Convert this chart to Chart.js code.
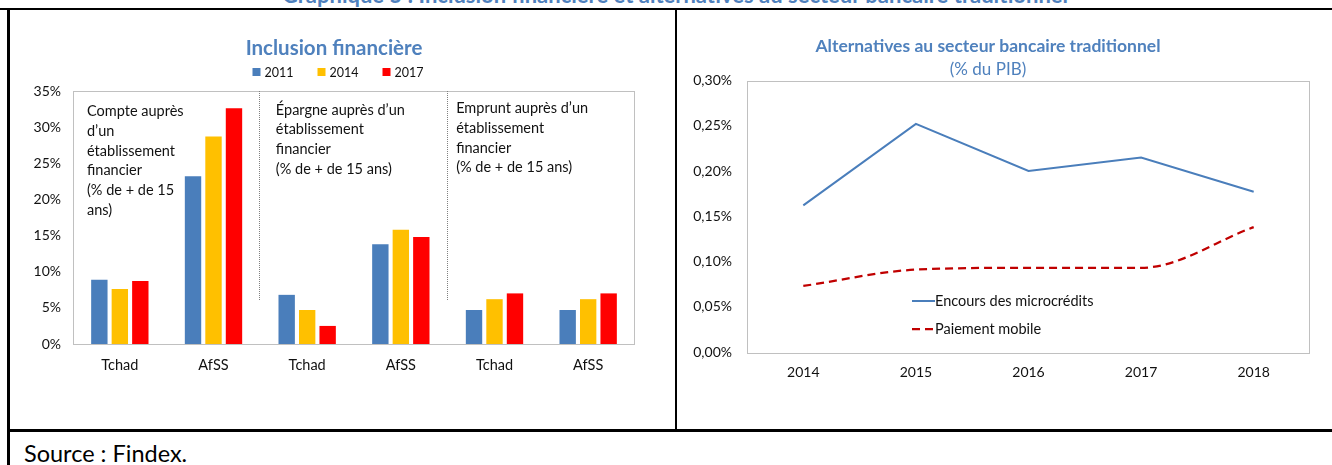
<!DOCTYPE html>
<html><head><meta charset="utf-8">
<script src="https://cdn.jsdelivr.net/npm/chart.js@4.4.0/dist/chart.umd.min.js"></script>
<style>
html,body{margin:0;padding:0;background:#fff;}
body{width:1332px;height:465px;overflow:hidden;position:relative;font-family:Lato,"Open Sans",sans-serif;}
.abs{position:absolute;}
.ln{position:absolute;background:#000;}
</style></head><body>
<div class="abs" style="left:0;width:1350px;top:-16px;text-align:center;font-weight:bold;font-size:22px;line-height:22px;color:#4F81BD;white-space:nowrap;">Graphique 5 : Inclusion financière et alternatives au secteur bancaire traditionnel</div>
<div class="ln" style="left:0;top:8px;width:1332px;height:2px;"></div>
<div class="ln" style="left:7px;top:8px;width:3px;height:457px;"></div>
<div class="ln" style="left:675px;top:8px;width:2px;height:423px;"></div>
<div class="ln" style="left:7px;top:429px;width:1325px;height:3px;"></div>
<div class="abs" style="left:24px;top:442px;font-size:23.5px;line-height:23px;color:#000;white-space:nowrap;">Source : Findex.</div>
<canvas id="c1" class="abs" width="648" height="419" style="left:10px;top:10px;width:648px;height:419px;"></canvas>
<canvas id="c2" class="abs" width="655" height="419" style="left:677px;top:10px;width:655px;height:419px;"></canvas>
<script>
// ---- Data: Inclusion financière ----
const categories = ['Tchad','AfSS','Tchad','AfSS','Tchad','AfSS'];
const seriesLabels = ['2011','2014','2017'];
const v2011 = [8.9, 23.2, 6.8, 13.8, 4.7, 4.7];
const v2014 = [7.6, 28.7, 4.7, 15.8, 6.2, 6.2];
const v2017 = [8.7, 32.6, 2.5, 14.8, 7.0, 7.0];
const groupNotes = [
  ['Compte auprès','d’un','établissement','financier','(% de + de 15','ans)'],
  ['Épargne auprès d’un','établissement','financier','(% de + de 15 ans)'],
  ['Emprunt auprès d’un','établissement','financier','(% de + de 15 ans)']
];
// ---- Data: Alternatives au secteur bancaire traditionnel ----
const years = ['2014','2015','2016','2017','2018'];
const microcredits = [0.162, 0.252, 0.200, 0.215, 0.177];
const paiementMobile = [0.073, 0.091, 0.093, 0.093, 0.138];
const lineLabels = ['Encours des microcrédits','Paiement mobile'];

const FONT = 'Lato, "Open Sans", sans-serif';
const BLUE_T = '#4F81BD';
const TXT = '#111';

const boxPlugin = {id:'box', beforeDatasetsDraw(chart){
  const {ctx, chartArea:a} = chart;
  ctx.save(); ctx.strokeStyle='#C0C0C0'; ctx.lineWidth=1;
  ctx.strokeRect(Math.round(a.left)+0.5, Math.round(a.top)+0.5, Math.round(a.right-a.left)-1, Math.round(a.bottom-a.top));
  ctx.restore();
}};

const sepPlugin = {id:'sep', beforeDatasetsDraw(chart){
  const {ctx, chartArea:a, scales:{x,y}} = chart;
  ctx.save(); ctx.strokeStyle='#808080'; ctx.lineWidth=1; ctx.setLineDash([1,1]);
  [1,3].forEach(i=>{
    const px = Math.round((x.getPixelForValue(i)+x.getPixelForValue(i+1))/2)-0.5;
    ctx.beginPath(); ctx.moveTo(px, a.top); ctx.lineTo(px, y.getPixelForValue(6)); ctx.stroke();
  });
  ctx.restore();
}};

const notesPlugin = {id:'notes', afterDatasetsDraw(chart){
  const {ctx, chartArea:a, scales:{x}} = chart;
  const sep1 = (x.getPixelForValue(1)+x.getPixelForValue(2))/2;
  const sep2 = (x.getPixelForValue(3)+x.getPixelForValue(4))/2;
  const xs = [a.left+14, sep1+15.5, sep2+8.5];
  const tops = [20.5, 19, 17.7];
  ctx.save(); ctx.fillStyle=TXT; ctx.font='14.5px '+FONT; ctx.textBaseline='middle'; ctx.textAlign='left';
  groupNotes.forEach((lines,g)=>{
    lines.forEach((t,k)=>ctx.fillText(t, xs[g], a.top+tops[g]+k*19.7));
  });
  ctx.restore();
}};

const legendPlugin1 = {id:'lg1', afterDraw(chart){
  const {ctx} = chart;
  ctx.save(); ctx.font='12.5px '+FONT; ctx.textBaseline='middle'; ctx.textAlign='left';
  const box=8, gapT=4, gapI=24;
  const items = chart.data.datasets.map(d=>({t:d.label, c:d.backgroundColor, w:box+gapT+ctx.measureText(d.label).width}));
  const total = items.reduce((s,i)=>s+i.w,0)+gapI*(items.length-1);
  let xx = chart.width/2 - total/2 + 4; const yy = 62;
  items.forEach(it=>{
    ctx.fillStyle=it.c; ctx.fillRect(xx, yy-4, box, box);
    ctx.fillStyle=TXT; ctx.fillText(it.t, xx+box+gapT, yy+0.5);
    xx += it.w + gapI;
  });
  ctx.restore();
}};

new Chart(document.getElementById('c1'), {
  type:'bar',
  data:{labels:categories, datasets:[
    {label:seriesLabels[0], data:v2011, backgroundColor:'#4A7EBB'},
    {label:seriesLabels[1], data:v2014, backgroundColor:'#FFC000'},
    {label:seriesLabels[2], data:v2017, backgroundColor:'#FF0000'}
  ]},
  options:{
    responsive:false, animation:false, devicePixelRatio:1,
    layout:{padding:{left:23,right:23,top:0,bottom:0}},
    datasets:{bar:{categoryPercentage:0.656, barPercentage:0.8}},
    plugins:{
      legend:{display:false}, tooltip:{enabled:false},
      title:{display:true, text:'Inclusion financière', color:BLUE_T, font:{family:FONT,size:20.5,weight:'bold'}, padding:{top:25.7,bottom:30.7}}
    },
    scales:{
      x:{grid:{display:false, drawTicks:false}, border:{display:false}, ticks:{color:TXT, font:{family:FONT,size:14.5}, padding:12.5}, afterFit(s){s.height=85;}},
      y:{min:0, max:35, grid:{display:false, drawTicks:false}, border:{display:false},
         ticks:{stepSize:5, callback:v=>v+'%', color:TXT, font:{family:FONT,size:14}, padding:12},
         afterFit(s){s.width=40;}}
    }
  },
  plugins:[boxPlugin, sepPlugin, notesPlugin, legendPlugin1]
});

const legendPlugin2 = {id:'lg2', afterDatasetsDraw(chart){
  const {ctx, chartArea:a} = chart;
  chart.data.datasets.forEach((ds,i)=>{
    const y = a.top + 220.5 + i*28;
    const x0 = a.left + 165, x1 = x0 + 23;
    ctx.save();
    ctx.strokeStyle=ds.borderColor; ctx.lineWidth=ds.borderWidth; ctx.setLineDash(ds.borderDash||[]);
    ctx.beginPath(); ctx.moveTo(x0,y); ctx.lineTo(x1,y); ctx.stroke();
    ctx.setLineDash([]); ctx.fillStyle=TXT; ctx.font='14.5px '+FONT; ctx.textBaseline='middle'; ctx.textAlign='left';
    ctx.fillText(ds.label, x1, y+0.5);
    ctx.restore();
  });
}};

new Chart(document.getElementById('c2'), {
  type:'line',
  data:{labels:years, datasets:[
    {label:lineLabels[0], data:microcredits, borderColor:'#4A7EBB', borderWidth:2, pointRadius:0, tension:0, fill:false},
    {label:lineLabels[1], data:paiementMobile, borderColor:'#C00000', borderWidth:2.25, borderDash:[8,5], pointRadius:0, cubicInterpolationMode:'monotone', fill:false}
  ]},
  options:{
    responsive:false, animation:false, devicePixelRatio:1,
    layout:{padding:{left:-11,right:22,top:0,bottom:0}},
    plugins:{
      legend:{display:false}, tooltip:{enabled:false},
      title:{display:true, text:'Alternatives au secteur bancaire traditionnel', color:BLUE_T, font:{family:FONT,size:17.5,weight:'bold'}, padding:{top:25.5,bottom:0}},
      subtitle:{display:true, text:'(% du PIB)', color:BLUE_T, font:{family:FONT,size:17}, padding:{top:3.3,bottom:0.3}}
    },
    scales:{
      x:{offset:true, grid:{display:false, drawTicks:false}, border:{display:false}, ticks:{color:TXT, font:{family:FONT,size:14}, padding:12}, afterFit(s){s.height=77;}},
      y:{min:0, max:0.3, grid:{display:false, drawTicks:false}, border:{display:false},
         ticks:{stepSize:0.05, callback:v=>v.toFixed(2).replace('.',',')+'%', color:TXT, font:{family:FONT,size:14}, padding:15},
         afterFit(s){s.width=81;}}
    }
  },
  plugins:[boxPlugin, legendPlugin2]
});
</script>
</body></html>
